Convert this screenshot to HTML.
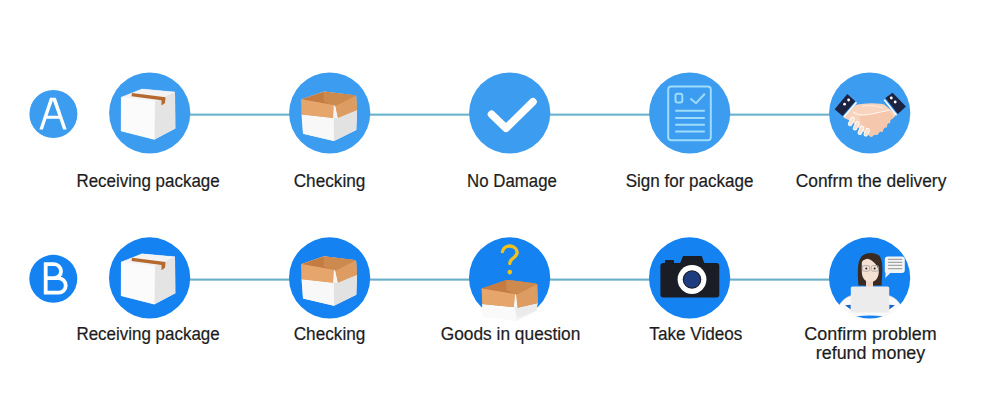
<!DOCTYPE html>
<html><head><meta charset="utf-8">
<style>
html,body{margin:0;padding:0;background:#fff;}
body{width:1000px;height:406px;position:relative;overflow:hidden;font-family:"Liberation Sans",sans-serif;}
.c{position:absolute;border-radius:50%;}
.r1{background:#3c9cf0;}
.r2{background:#1482f0;}
.big{width:81px;height:81px;}
.sm{width:48px;height:48px;}
.ln{position:absolute;height:2px;background:#64b0d6;}
.t{position:absolute;font-size:18px;line-height:19px;color:#1c1c1c;-webkit-text-stroke:0.2px #222;white-space:nowrap;text-align:center;width:200px;}
.t span{display:inline-block;transform-origin:center;}
svg{position:absolute;left:0;top:0;}
</style></head><body>
<svg width="1000" height="406"><rect x="185" y="113.6" width="650" height="2.1" fill="#6ab3cc"/><rect x="185" y="278.55" width="650" height="2.1" fill="#68afcb"/></svg>




<div class="t" style="left:48.5px;top:171.7px;"><span style="transform:scaleX(0.942)">Receiving package</span></div>
<div class="t" style="left:230px;top:171.7px;"><span style="transform:scaleX(0.955)">Checking</span></div>
<div class="t" style="left:412.5px;top:171.7px;"><span style="transform:scaleX(0.935)">No Damage</span></div>
<div class="t" style="left:590px;top:171.7px;"><span style="transform:scaleX(0.946)">Sign for package</span></div>
<div class="t" style="left:771px;top:171.7px;"><span style="transform:scaleX(0.965)">Confrm the delivery</span></div>

<div class="t" style="left:48.5px;top:324.7px;"><span style="transform:scaleX(0.942)">Receiving package</span></div>
<div class="t" style="left:230px;top:324.7px;"><span style="transform:scaleX(0.955)">Checking</span></div>
<div class="t" style="left:410.5px;top:324.7px;"><span style="transform:scaleX(0.962)">Goods in question</span></div>
<div class="t" style="left:595.5px;top:324.7px;"><span style="transform:scaleX(0.952)">Take Videos</span></div>
<div class="t" style="left:770.5px;top:324.7px;"><span style="transform:scaleX(0.995)">Confirm problem<br>refund money</span></div>

<svg width="1000" height="406" viewBox="0 0 1000 406">
<circle cx="53.4" cy="114" r="24" fill="#3c9cf0"/>
<circle cx="53.3" cy="278.8" r="24" fill="#1482f0"/>
<circle cx="149.7" cy="113" r="40.6" fill="#3c9cf0"/>
<circle cx="329.7" cy="113" r="40.6" fill="#3c9cf0"/>
<circle cx="509.7" cy="113" r="40.6" fill="#3c9cf0"/>
<circle cx="689.7" cy="113" r="40.6" fill="#3c9cf0"/>
<circle cx="869.7" cy="113" r="40.6" fill="#3c9cf0"/>
<circle cx="149.6" cy="277.9" r="40.6" fill="#1482f0"/>
<circle cx="329.6" cy="277.9" r="40.6" fill="#1482f0"/>
<circle cx="509.6" cy="277.9" r="40.6" fill="#1482f0"/>
<circle cx="689.6" cy="277.9" r="40.6" fill="#1482f0"/>
<circle cx="869.6" cy="277.9" r="40.6" fill="#1482f0"/>
<!-- letters -->
<path fill="#fff" fill-rule="evenodd" d="M39.4,129.5 L50,97.8 L55.8,97.8 L66.7,129.5 L63.1,129.5 L59.4,118.8 L46.5,118.8 L42.9,129.5 Z M47.5,115.7 L58.35,115.7 L52.9,100.5 Z"/>
<path fill="none" stroke="#fff" stroke-width="3.8" d="M45.7,262.4 V294.5 M43.9,264.2 H54 A7,7 0 0 1 54,278.2 H45.7 M45.7,278.2 H58.5 A7.25,7.25 0 0 1 58.5,292.7 H43.9"/>
<!-- icon: closed box -->
<g>
<polygon fill="#f6f6f6" points="121.3,97.2 142,89 175,92 175.3,128.5 154.5,139.5 121,131"/>
<polygon fill="#f3f3f3" stroke="#f3f3f3" stroke-width="0.3" points="121.3,97.2 142,89 175,92 155,101.5"/>
<polygon fill="#fbfbfb" stroke="#fbfbfb" stroke-width="0.3" points="121.3,97.2 155,101.5 154.5,139.5 121,131"/>
<polygon fill="#e4e4e4" points="155,101.5 175,92 175.3,128.5 154.5,139.5"/>
<polygon fill="#b5692e" points="132,93 165.5,97.3 165,103 161.5,105.5 161.5,100.2 131.5,96.2"/>
</g>
<g transform="translate(0,164.8)">
<polygon fill="#f6f6f6" points="121.3,97.2 142,89 175,92 175.3,128.5 154.5,139.5 121,131"/>
<polygon fill="#f3f3f3" stroke="#f3f3f3" stroke-width="0.3" points="121.3,97.2 142,89 175,92 155,101.5"/>
<polygon fill="#fbfbfb" stroke="#fbfbfb" stroke-width="0.3" points="121.3,97.2 155,101.5 154.5,139.5 121,131"/>
<polygon fill="#e4e4e4" points="155,101.5 175,92 175.3,128.5 154.5,139.5"/>
<polygon fill="#b5692e" points="132,93 165.5,97.3 165,103 161.5,105.5 161.5,100.2 131.5,96.2"/>
</g>
<!-- icon: open box -->
<g>
<polygon fill="#f4f4f4" points="301.5,99.3 324,91.5 356,95.5 357,110.5 356.3,130 334,141 303,133.7"/>
<polygon fill="#d08c52" points="301.5,99.3 324,91.5 356,95.5 357,110 338,118 333,118 301.5,114.5"/>
<polygon fill="#c47c42" points="304,98.5 323.7,92 356,95.5 335,106 301.5,99.5"/>
<polygon fill="#cd8a4f" points="323.7,92 356,95.5 335,106 323.7,101.6"/>
<polygon fill="#f8f8f8" points="301.5,114.5 333,118 334,141 303,133.7"/>
<polygon fill="#e2e2e2" points="334,118 357,110.5 356.3,130 334,141"/>
<polygon fill="#f4f4f4" points="333.5,105 335.5,106 338,118 333,118"/>
<polygon fill="#e6a66b" points="301.5,99.3 333.5,105 333,118 301.5,114.5"/>
<polygon fill="#dd9d62" points="335.5,106 356,95.5 357,110 338,118"/>
</g>
<g transform="translate(0,164.8)">
<polygon fill="#f4f4f4" points="301.5,99.3 324,91.5 356,95.5 357,110.5 356.3,130 334,141 303,133.7"/>
<polygon fill="#d08c52" points="301.5,99.3 324,91.5 356,95.5 357,110 338,118 333,118 301.5,114.5"/>
<polygon fill="#c47c42" points="304,98.5 323.7,92 356,95.5 335,106 301.5,99.5"/>
<polygon fill="#cd8a4f" points="323.7,92 356,95.5 335,106 323.7,101.6"/>
<polygon fill="#f8f8f8" points="301.5,114.5 333,118 334,141 303,133.7"/>
<polygon fill="#e2e2e2" points="334,118 357,110.5 356.3,130 334,141"/>
<polygon fill="#f4f4f4" points="333.5,105 335.5,106 338,118 333,118"/>
<polygon fill="#e6a66b" points="301.5,99.3 333.5,105 333,118 301.5,114.5"/>
<polygon fill="#dd9d62" points="335.5,106 356,95.5 357,110 338,118"/>
</g>
<!-- checkmark -->
<polyline fill="none" stroke="#fff" stroke-width="7.6" stroke-linecap="round" stroke-linejoin="round" points="491.5,114.3 506,128.3 533,101.8"/>
<!-- document -->
<g fill="none" stroke="#9edcfb" stroke-width="2">
<rect x="668.2" y="86.5" width="42.6" height="53.8" rx="3"/>
<rect x="675.5" y="93.8" width="6.8" height="8.6" rx="2"/>
<polyline points="690.4,98.4 696,103.2 704.8,93.8"/>
<path d="M675.2,110.8 H704.8 M675.2,117.9 H704.8 M675.2,124.8 H704.8 M675.2,131.5 H704.8"/>
</g>
<!-- handshake -->
<g>
<path fill="#f8d3bd" d="M843.5,117.5 L855.2,105.2 C858,104.2 861,103.8 863.4,103.7 C866,103.4 869,103.2 871.7,103.2 C875,103.3 878,103.5 881,103.7 C883,104 884.5,104.5 885.2,105.2 L896.2,114.2 L894.5,117 L891.4,118.7 L890,121 L888.3,122.8 L887,125 L885.2,127 L883.5,129 L881,131.1 L878.5,133 L875.9,134.2 L873,135.5 L870.7,136.3 L867.5,134 L862,131 L857,126.5 L852,121.5 L846.5,119 Z"/>
<path fill="#f5c8ae" d="M859,116 C866,115.5 874,114 880,112.5 C884,111.5 887,110.5 889.3,110.2 L892.4,115.6 L891.4,118.7 L888.3,122.8 L885.2,127 L881,131.1 L875.9,134.2 L870.7,136.3 C867,135 864,131 861,126 Z"/>
<g fill="#f5c8ae"><circle cx="891.5" cy="117.5" r="1.8"/><circle cx="888.6" cy="121.8" r="1.8"/><circle cx="885.5" cy="126" r="1.8"/><circle cx="881.5" cy="130" r="1.9"/><circle cx="876.5" cy="133.2" r="1.9"/><circle cx="871.3" cy="135.2" r="1.8"/></g>
<path fill="none" stroke="#fff3ec" stroke-width="1.1" d="M853.1,112 C858,115.5 864,115.5 870,114.3 C877,113 884,111 889.5,110.2"/>
<path fill="none" stroke="#fdeee6" stroke-width="0.9" d="M862,106.5 C868,105 876,105.5 883,108"/>
<g fill="#fae0d1" stroke="#fff" stroke-width="0.9">
<rect x="-1.8" y="-9" width="3.6" height="9" rx="1.8" transform="translate(849.3,125.6) rotate(26)"/>
<rect x="-1.8" y="-9" width="3.6" height="9" rx="1.8" transform="translate(854.2,129.8) rotate(26)"/>
<rect x="-1.8" y="-9" width="3.6" height="9" rx="1.8" transform="translate(859,134.4) rotate(26)"/>
<rect x="-1.8" y="-8" width="3.6" height="8" rx="1.8" transform="translate(865,135.9) rotate(26)"/>
</g>
<polygon fill="#1c2340" points="834.7,109.3 847.3,94 855.3,101.3 842.6,116"/>
<polygon fill="#1c2340" points="885.3,98 892.6,92.7 905.9,106.6 897.9,114"/>
<path stroke="#fff" stroke-width="1.6" d="M843.8,117 L856.5,102.3 M884.3,99.8 L896.6,115.3"/>
<circle cx="848.6" cy="100" r="1.4" fill="#fff"/><circle cx="844.6" cy="104.2" r="1.4" fill="#fff"/>
<circle cx="891.3" cy="98" r="1.4" fill="#fff"/><circle cx="895.2" cy="102" r="1.4" fill="#fff"/>
</g>
<!-- question mark -->
<path fill="none" stroke="#f2c21c" stroke-width="3.3" stroke-linecap="round" d="M502.4,251.6 A7.5,7.1 0 0 1 517.2,252.4 C517,256 513.5,257.5 511.6,259.5 C510.3,260.8 509.8,262 509.8,263.6"/>
<circle cx="509.8" cy="272.1" r="2.3" fill="#f2c21c"/>
<!-- open box row2 col3 -->
<polygon fill="#f4f4f4" points="482.3,304 537.8,300 536.5,311 516.2,321 482.3,316"/>
<polygon fill="#fafafa" points="482.3,304 513.8,307 516.2,321 482.3,316"/>
<polygon fill="#ebebeb" points="515,307.5 537.8,302.5 536.5,310.5 517.5,318"/>
<polygon fill="#d08c52" points="481.7,288.6 506.4,279.9 536,283.6 537.2,284.2 538,303 517.5,307.8 513.8,307 482.3,304"/>
<polygon fill="#c47c42" points="485.4,287.3 506.4,279.9 536,283.6 516.2,294.7 481.7,288.6"/>
<polygon fill="#cd8a4f" points="506.4,279.9 536,283.6 516.2,294.7 506.4,290"/>
<polygon fill="#f6f6f6" points="514.6,294.1 516.4,294.7 518,308 513.8,307.5"/>
<polygon fill="#e6a66b" points="481.7,288.6 515,294.1 513.8,307 482.3,304"/>
<polygon fill="#dd9d62" points="516.2,294.7 537.2,284.2 538,303 517.5,307.8"/>
<!-- camera -->
<g>
<rect x="660.4" y="262.9" width="58.9" height="34.5" rx="3" fill="#1a1c26"/>
<polygon fill="#1a1c26" points="680,263.5 683,256.1 701.7,256.1 704.5,263.5"/>
<rect x="665" y="260" width="9" height="4" rx="1" fill="#1a1c26"/>
<circle cx="692" cy="279.5" r="14.4" fill="#fff"/>
<circle cx="692" cy="279.5" r="9.3" fill="#1a1c26"/>
<circle cx="692" cy="279.5" r="8.2" fill="#1d3d80"/>
</g>
<!-- woman -->
<g>
<defs><clipPath id="cw"><circle cx="869.6" cy="277.9" r="41.3"/></clipPath></defs><path clip-path="url(#cw)" fill="#f9f9f9" d="M834,304.7 L839.6,304.7 C843,299.5 847,297 851,295.8 L889,295.8 C893,297 897,299.5 900.4,304.7 L906,304.7 L906,324 L834,324 Z"/>
<path fill="none" stroke="#efdccd" stroke-width="0.8" d="M839.8,304.5 C843,299.5 847,297 851,295.8 M889,295.8 C893,297 897,299.5 900.2,304.5"/>
<path fill="#1482f0" d="M856.3,316.3 Q869.6,314.5 882.9,316.3 A40.6,40.6 0 0 1 856.3,316.3 Z"/>
<path fill="#1565c8" d="M845,305.2 L850.8,304.8 L850.8,309.6 Z M895,305.2 L889.2,304.8 L889.2,309.6 Z"/>
<path fill="#3a2a22" d="M858.5,285.5 C857.5,272 857,262 861.5,256.5 C865.5,252 875,252 879,255.5 C883.5,260 882.5,272 881.5,285.5 Z"/>
<rect x="866" y="278" width="7" height="9" fill="#f2d6c6"/>
<path fill="#f6e0d2" d="M861.8,263 C862,257.5 877.5,256.5 878.8,263.5 L878.8,272 C878.5,279 874.5,282 870.3,282 C866,282 862,279 861.8,272 Z"/>
<path fill="#3a2a22" d="M864,256.5 C871,255 877,258 879.2,263 L879.5,273 C878,266 874.5,260.5 865.5,257.8 Z"/>
<g fill="none" stroke="#a8a8a8" stroke-width="0.9"><rect x="862.3" y="265.6" width="7.4" height="5.6" rx="1.8"/><rect x="871.2" y="265.6" width="7.4" height="5.6" rx="1.8"/></g>
<circle cx="866.3" cy="268.5" r="1" fill="#222"/><circle cx="874.6" cy="268.5" r="1" fill="#222"/>
<rect x="850.8" y="286.4" width="38.4" height="26.1" rx="1.5" fill="#ececec"/>
<path fill="#f4f4f4" d="M884.8,259.4 a3,3 0 0 1 3,-3 h14 a3,3 0 0 1 3,3 v10.7 a3,3 0 0 1 -3,3 h-11.5 l-5.1,4.8 l0.4,-5 a3,3 0 0 1 -0.8,-2 z"/>
<path stroke="#a5a5a5" stroke-width="1.3" d="M888.1,259.4 H902.2 M888.1,262.3 H902.2 M888.1,265.3 H902.2 M888.1,268.6 H902.2"/>
</g>
</svg>
</body></html>
